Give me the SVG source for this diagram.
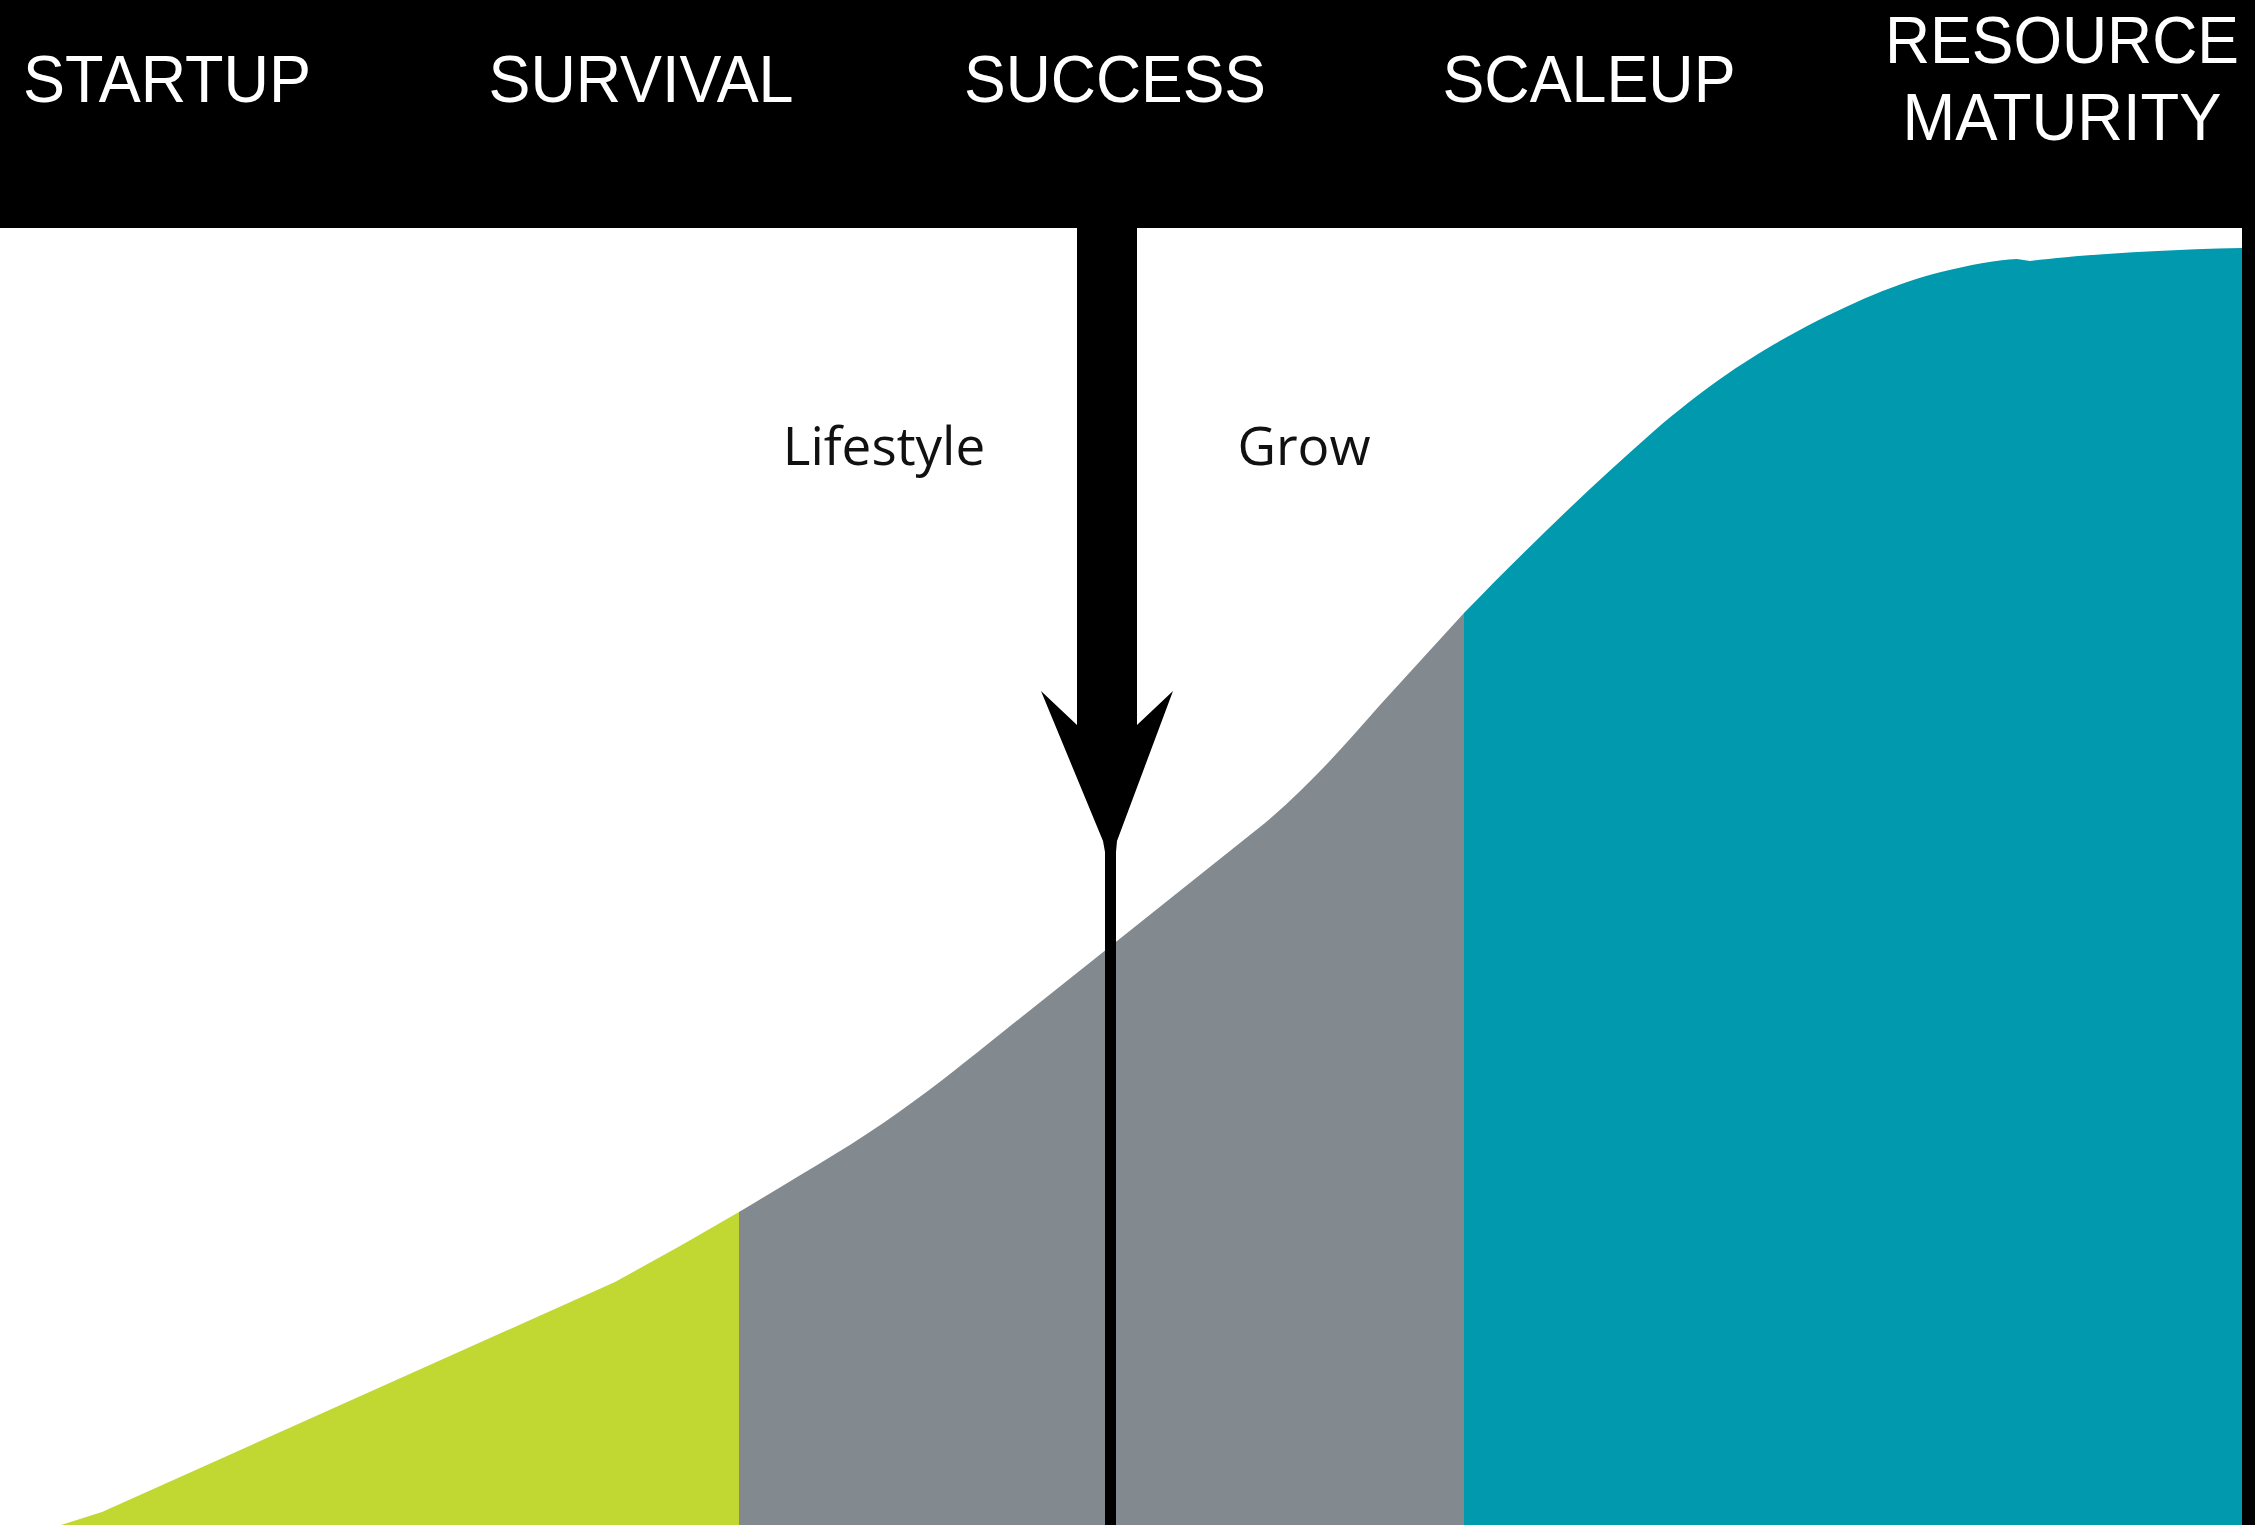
<svg xmlns="http://www.w3.org/2000/svg" width="2255" height="1525" viewBox="0 0 2255 1525">
  <style>
    .stage { font-family: "Liberation Sans", Arial, sans-serif; font-size: 66px; fill: #ffffff; text-anchor: middle; }
    .path-label { font-family: "Open Sans", "Noto Sans", sans-serif; font-size: 53px; fill: #111111; text-anchor: middle; }
    .green { fill: #C0D831; }
    .grey { fill: #82898F; }
    .teal { fill: #0099AD; }
  </style>
  <rect x="0" y="0" width="2255" height="1525" fill="#000000"/>
  <rect x="0" y="228" width="2242" height="1297" fill="#ffffff"/>

  <g id="areas">
    <path id="area-startup" class="green" d="M61,1525 L102,1512 L615,1282 L680,1246 L739,1212 L739,1525 Z"/>
    <path id="area-success" class="grey" d="M739,1525 L739,1212 C800,1175 850,1147 899,1112 C940,1083 970,1058 999,1035 L1107,949 L1265,823 C1310,785 1345,745 1380,705 L1464,613 L1464,1525 Z"/>
    <path id="area-scaleup" class="teal" d="M1464,1525 L1464,613 C1520,555 1590,487 1654,431 C1710,383 1750,357 1798,331 C1850,303 1900,282 1941,272 C1970,265 1995,260 2017,259 L2030,261 C2080,255 2150,250 2242,248 L2242,1525 Z"/>
  </g>

  <g id="connectors">
    <path id="arrow-decision" fill="#000000" d="M1077,228 L1137,228 L1137,725 L1173,691 L1117,841 L1116,852 L1116,1525 L1105,1525 L1105,852 L1103,841 L1041,691 L1077,725 Z"/>
  </g>

  <g id="stage-startup"><text class="stage" x="167" y="102" textLength="288" lengthAdjust="spacingAndGlyphs">STARTUP</text></g>
  <g id="stage-survival"><text class="stage" x="641" y="102" textLength="305" lengthAdjust="spacingAndGlyphs">SURVIVAL</text></g>
  <g id="stage-success"><text class="stage" x="1115" y="102" textLength="302" lengthAdjust="spacingAndGlyphs">SUCCESS</text></g>
  <g id="stage-scaleup"><text class="stage" x="1589" y="102" textLength="293" lengthAdjust="spacingAndGlyphs">SCALEUP</text></g>
  <g id="stage-resource-maturity">
    <text class="stage" x="2062" y="63" textLength="354" lengthAdjust="spacingAndGlyphs">RESOURCE</text>
    <text class="stage" x="2062" y="140" textLength="319" lengthAdjust="spacingAndGlyphs">MATURITY</text>
  </g>

  <g id="label-lifestyle"><text class="path-label" x="884" y="465">Lifestyle</text></g>
  <g id="label-grow"><text class="path-label" x="1304" y="465">Grow</text></g>
</svg>
